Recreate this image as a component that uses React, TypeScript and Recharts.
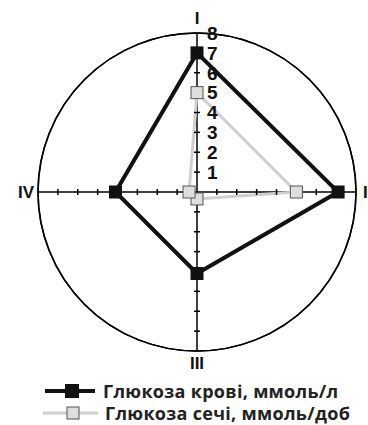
import React from 'react';
import { RadarChart, Radar, PolarGrid, PolarAngleAxis, PolarRadiusAxis, Legend } from 'recharts';

const categories = ['I', 'II', 'III', 'IV'];
const bloodGlucose = [7.0, 7.1, 4.1, 4.1];
const urineGlucose = [5.0, 5.0, 0.35, 0.4];
const seriesNames = ['Глюкоза крові, ммоль/л', 'Глюкоза сечі, ммоль/доб'];
const radiusTicks = [0, 1, 2, 3, 4, 5, 6, 7, 8];

const data = categories.map((c, i) => ({ axis: c, blood: bloodGlucose[i], urine: urineGlucose[i] }));

const W = 368;
const H = 425;
const CX = 197;
const CY = 192;
const R = 159;
const FONT = '"Liberation Sans", Arial, sans-serif';
const LEGEND_FONT = '"Open Sans", "Liberation Sans", sans-serif';

const BLACK_SQ = 13;
const GRAY_SQ = 12;
const GRAY_LINE = '#cfcfcf';
const GRAY_FILL = '#dedede';
const GRAY_STROKE = '#555';

const BlackDot = (props: any) => {
  const { cx, cy } = props;
  if (cx == null || cy == null) return null;
  return <rect x={cx - BLACK_SQ / 2} y={cy - BLACK_SQ / 2} width={BLACK_SQ} height={BLACK_SQ} fill="#111" />;
};

const GrayDot = (props: any) => {
  const { cx, cy } = props;
  if (cx == null || cy == null) return null;
  return (
    <rect x={cx - GRAY_SQ / 2} y={cy - GRAY_SQ / 2} width={GRAY_SQ} height={GRAY_SQ} fill={GRAY_FILL} stroke={GRAY_STROKE} strokeWidth={1} />
  );
};

const RadiusTick = (props: any) => {
  const { x, y, payload } = props;
  const v = payload?.value;
  const r = payload?.coordinate ?? 0;
  if (v === 0 || v == null) return <g />;
  const cx = x;
  const cy = y + r;
  const t = 3;
  const showMark = v < 8;
  return (
    <g>
      {showMark && (
        <g stroke="#000" strokeWidth={1.5}>
          <line x1={cx - t} y1={cy - r} x2={cx + t} y2={cy - r} />
          <line x1={cx - t} y1={cy + r} x2={cx + t} y2={cy + r} />
          <line x1={cx - r} y1={cy - t} x2={cx - r} y2={cy + t} />
          <line x1={cx + r} y1={cy - t} x2={cx + r} y2={cy + t} />
        </g>
      )}
      <text x={x + 10} y={y} dy="0.36em" textAnchor="start" fontFamily={FONT} fontWeight="bold" fontSize={19} fill="#111">
        {v}
      </text>
    </g>
  );
};

const AngleTick = (props: any) => {
  const { x, y, payload } = props;
  const v = payload?.value;
  let tx = x;
  let ty = y;
  let anchor: 'start' | 'middle' | 'end' = 'middle';
  let dy = '0.36em';
  if (v === 'I') {
    ty = y - 1;
    dy = '0';
  } else if (v === 'II') {
    tx = x - 1;
    anchor = 'start';
  } else if (v === 'III') {
    ty = y - 2;
    dy = '0.72em';
  } else {
    tx = x + 4;
    anchor = 'end';
  }
  return (
    <text x={tx} y={ty} dy={dy} textAnchor={anchor} fontFamily={FONT} fontWeight="bold" fontSize={17} fill="#111">
      {v}
    </text>
  );
};

const LegendContent = (props: any) => {
  const payload = props.payload || [];
  return (
    <div style={{ fontFamily: LEGEND_FONT }}>
      {payload.map((p: any, i: number) => {
        const isBlack = i === 0;
        return (
          <div key={i} style={{ display: 'flex', alignItems: 'center', height: 22 }}>
            <svg width={isBlack ? 103 : 105} height={20} style={{ display: 'block', flex: 'none' }}>
              {isBlack ? (
                <g>
                  <line x1={45} y1={10} x2={95} y2={10} stroke="#111" strokeWidth={4} />
                  <rect x={72 - 7} y={10 - 7} width={14} height={14} fill="#111" />
                </g>
              ) : (
                <g>
                  <line x1={43} y1={10} x2={98} y2={10} stroke={GRAY_LINE} strokeWidth={3} />
                  <rect x={73 - 6} y={10 - 6} width={12} height={12} fill={GRAY_FILL} stroke={GRAY_STROKE} strokeWidth={1} />
                </g>
              )}
            </svg>
            <span style={{ fontWeight: 'bold', fontSize: 18, letterSpacing: 0.3, lineHeight: '22px', color: '#222', whiteSpace: 'nowrap' }}>{p.value}</span>
          </div>
        );
      })}
    </div>
  );
};

export default function App() {
  return (
    <div style={{ position: 'absolute', left: 0, top: 0, width: W, height: H, background: '#fff', overflow: 'hidden' }}>
      <RadarChart width={W} height={H} data={data} cx={CX} cy={CY} outerRadius={R} margin={{ top: 0, right: 0, bottom: 0, left: 0 }}>
        <PolarGrid gridType="circle" polarRadius={[R]} stroke="#000" strokeWidth={1.5} />
        <PolarAngleAxis
          dataKey="axis"
          tick={<AngleTick />}
          tickLine={false}
          axisLineType="circle"
          axisLine={{ stroke: '#000', strokeWidth: 1.5 }}
        />
        <PolarRadiusAxis angle={90} domain={[0, 8]} ticks={radiusTicks as any} tickCount={9} axisLine={false} tick={<RadiusTick />} />
        <Radar
          name={seriesNames[0]}
          dataKey="blood"
          stroke="#111"
          strokeWidth={4}
          fill="none"
          fillOpacity={0}
          dot={<BlackDot />}
          isAnimationActive={false}
        />
        <Radar
          name={seriesNames[1]}
          dataKey="urine"
          stroke={GRAY_LINE}
          strokeWidth={3}
          fill="none"
          fillOpacity={0}
          dot={<GrayDot />}
          isAnimationActive={false}
        />
        <Legend
          content={<LegendContent />}
          wrapperStyle={{ position: 'absolute', left: 0, top: 380, width: W }}
        />
      </RadarChart>
    </div>
  );
}
